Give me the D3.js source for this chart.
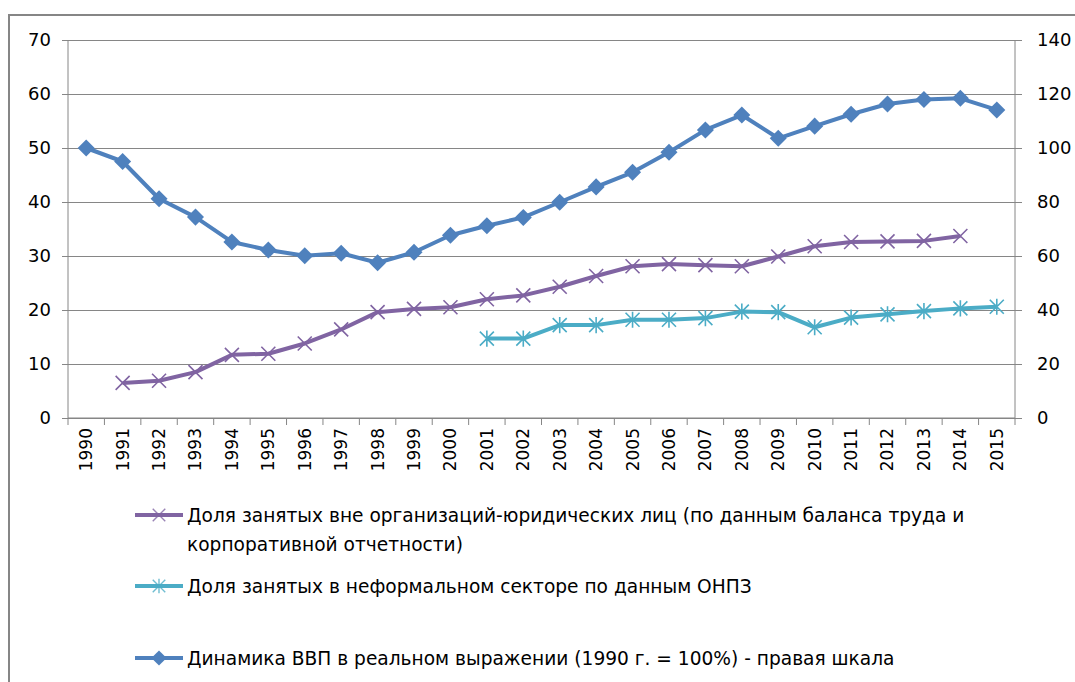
<!DOCTYPE html>
<html>
<head>
<meta charset="utf-8">
<script src="https://cdn.jsdelivr.net/npm/d3@7"></script>
<style>
  body { margin: 0; background: #fff; }
  text { font-family: "DejaVu Sans", Verdana, sans-serif; fill: #000; }
</style>
</head>
<body>
<div id="chart"></div>
<script>
// Categories
const years = ["1990", "1991", "1992", "1993", "1994", "1995", "1996", "1997", "1998", "1999",
  "2000", "2001", "2002", "2003", "2004", "2005", "2006", "2007", "2008", "2009",
  "2010", "2011", "2012", "2013", "2014", "2015"];

// Доля занятых вне организаций (left scale, %)
const shareOutside = [null, 6.5, 6.9, 8.5, 11.7, 11.9, 13.8, 16.4, 19.6, 20.2,
  20.5, 22.0, 22.7, 24.3, 26.3, 28.1, 28.5, 28.3, 28.1, 29.9,
  31.8, 32.6, 32.7, 32.8, 33.7, null];

// Доля занятых в неформальном секторе (left scale, %)
const shareInformal = [null, null, null, null, null, null, null, null, null, null,
  null, 14.7, 14.7, 17.2, 17.2, 18.2, 18.2, 18.5, 19.7, 19.6,
  16.8, 18.6, 19.2, 19.8, 20.3, 20.6];

// Динамика ВВП (right scale, 1990 = 100)
const gdp = [100, 95, 81.2, 74.4, 65.2, 62.2, 60.1, 61, 57.5, 61.4,
  67.7, 71.2, 74.3, 79.9, 85.6, 91, 98.4, 106.7, 112.2, 103.6,
  108.1, 112.5, 116.3, 118, 118.4, 114.1];

const leftTicks = [0, 10, 20, 30, 40, 50, 60, 70];
const rightTicks = [0, 20, 40, 60, 80, 100, 120, 140];

const legendLabels = [
  ["Доля занятых вне организаций-юридических лиц (по данным баланса труда и", "корпоративной отчетности)"],
  ["Доля занятых в неформальном секторе по данным ОНПЗ"],
  ["Динамика ВВП в реальном выражении (1990 г. = 100%) - правая шкала"]
];

const width = 1075, height = 682;
const plot = { left: 68, right: 1015, top: 40, bottom: 418 };
const gridColor = "#868686";
const colors = { outside: "#8064A2", informal: "#4BACC6", gdp: "#4F81BD" };

const svg = d3.select("#chart").append("svg")
  .attr("width", width)
  .attr("height", height);

// outer chart frame
svg.append("path")
  .attr("d", `M9,${height} V15 H${width}`)
  .attr("fill", "none")
  .attr("stroke", gridColor)
  .attr("stroke-width", 2);

const x = d3.scaleBand().domain(years).range([plot.left, plot.right]);
const yLeft = d3.scaleLinear().domain([0, 70]).range([plot.bottom, plot.top]);
const yRight = d3.scaleLinear().domain([0, 140]).range([plot.bottom, plot.top]);

// gridlines
svg.append("g")
  .attr("transform", `translate(${plot.left},0)`)
  .call(d3.axisLeft(yLeft).tickValues(leftTicks).tickSize(-(plot.right - plot.left)).tickFormat(""))
  .call(g => g.select(".domain").remove())
  .call(g => g.selectAll("line").attr("stroke", gridColor));

// left axis
svg.append("g")
  .attr("transform", `translate(${plot.left},0)`)
  .call(d3.axisLeft(yLeft).tickValues(leftTicks).tickSize(6).tickPadding(11))
  .call(g => g.select(".domain").attr("stroke", gridColor).attr("d", `M0,${plot.top}V${plot.bottom}`))
  .call(g => g.selectAll("line").attr("stroke", gridColor))
  .call(g => g.selectAll("text").style("font-size", "18px"));

// right axis
svg.append("g")
  .attr("transform", `translate(${plot.right},0)`)
  .call(d3.axisRight(yRight).tickValues(rightTicks).tickSize(7).tickPadding(15))
  .call(g => g.select(".domain").attr("stroke", gridColor).attr("d", `M0,${plot.top}V${plot.bottom}`))
  .call(g => g.selectAll("line").attr("stroke", gridColor))
  .call(g => g.selectAll("text").style("font-size", "18px"));

// category axis: labels at band centres, ticks at band boundaries
const xAxis = svg.append("g")
  .attr("transform", `translate(0,${plot.bottom})`)
  .call(d3.axisBottom(x).tickSize(0))
  .call(g => g.select(".domain").attr("stroke", gridColor).attr("d", `M${plot.left},0H${plot.right}`));

xAxis.selectAll(".tick text")
  .style("font-size", "17px")
  .attr("text-anchor", "end")
  .attr("transform", "rotate(-90)")
  .attr("x", -10)
  .attr("y", 0)
  .attr("dy", "0.35em");

xAxis.selectAll(".boundary")
  .data(d3.range(years.length + 1))
  .join("line")
  .attr("class", "boundary")
  .attr("x1", i => plot.left + i * x.step())
  .attr("x2", i => plot.left + i * x.step())
  .attr("y1", 0)
  .attr("y2", 7)
  .attr("stroke", gridColor);

// marker shapes in the Excel style
const symbolCross = {
  draw(context, size) {
    const r = Math.sqrt(size) / 2;
    context.moveTo(-r, -r); context.lineTo(r, r);
    context.moveTo(-r, r); context.lineTo(r, -r);
  }
};
const symbolStar = {
  draw(context, size) {
    const r = Math.sqrt(size) / 2;
    context.moveTo(-r, -r); context.lineTo(r, r);
    context.moveTo(-r, r); context.lineTo(r, -r);
    context.moveTo(0, -r * 1.15); context.lineTo(0, r * 1.15);
  }
};

const cx = d => x(d.year) + x.bandwidth() / 2;

function drawSeries(values, yScale, color, marker) {
  const pts = years.map((year, i) => ({ year, v: values[i] })).filter(d => d.v != null);
  const line = d3.line().x(cx).y(d => yScale(d.v));
  svg.append("path")
    .datum(pts)
    .attr("d", line)
    .attr("fill", "none")
    .attr("stroke", color)
    .attr("stroke-width", 4)
    .attr("stroke-linejoin", "round");
  const g = svg.append("g");
  g.selectAll("path")
    .data(pts)
    .join("path")
    .attr("transform", d => marker.rotate
      ? `translate(${cx(d)},${yScale(d.v)}) rotate(45)`
      : `translate(${cx(d)},${yScale(d.v)})`)
    .attr("d", d3.symbol().type(marker.type).size(marker.size))
    .attr("fill", marker.fill ? color : "none")
    .attr("stroke", color)
    .attr("stroke-width", marker.fill ? 0 : 1.6);
}

const markers = {
  outside: { type: symbolCross, size: 196 },
  informal: { type: symbolStar, size: 196 },
  gdp: { type: d3.symbolSquare, size: 145, fill: true, rotate: true }
};

drawSeries(shareOutside, yLeft, colors.outside, markers.outside);
drawSeries(shareInformal, yLeft, colors.informal, markers.informal);
drawSeries(gdp, yRight, colors.gdp, markers.gdp);

// legend
const legendRows = [
  { key: "outside", y: 515 },
  { key: "informal", y: 586 },
  { key: "gdp", y: 658 }
];

legendRows.forEach((row, i) => {
  const g = svg.append("g").attr("transform", `translate(135,${row.y})`);
  g.append("line")
    .attr("x1", 0).attr("x2", 48)
    .attr("stroke", colors[row.key])
    .attr("stroke-width", 4);
  const m = markers[row.key];
  g.append("path")
    .attr("transform", m.rotate ? "translate(24,0) rotate(45)" : "translate(24,0)")
    .attr("d", d3.symbol().type(m.type).size(m.size * 0.8))
    .attr("fill", m.fill ? colors[row.key] : "none")
    .attr("stroke", colors[row.key])
    .attr("stroke-width", m.fill ? 0 : 1.4)
    .attr("opacity", m.fill ? 1 : 0.8);
  legendLabels[i].forEach((t, j) => {
    g.append("text")
      .attr("x", 52)
      .attr("y", j * 29)
      .attr("dy", "0.35em")
      .style("font-size", "18.6px")
      .text(t);
  });
});
</script>
</body>
</html>
